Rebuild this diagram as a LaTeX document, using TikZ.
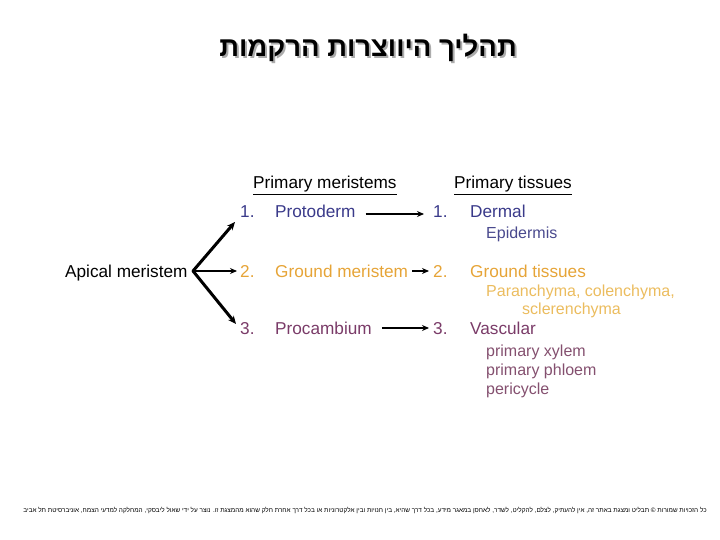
\documentclass[tikz,border=0pt]{standalone}
\usepackage{fontspec}
\setmainfont{Liberation Sans}
\newfontfamily\hebfont[Script=Hebrew]{Liberation Sans}
\TeXXeTstate=1
\usetikzlibrary{arrows.meta}
\definecolor{cblue}{HTML}{3A3A8A}
\definecolor{cbluel}{HTML}{4A4A8E}
\definecolor{cgold}{HTML}{E6A437}
\definecolor{cgoldl}{HTML}{EBBC5E}
\definecolor{cplum}{HTML}{7A3B68}
\definecolor{cpluml}{HTML}{84506F}
\tikzset{
  txt/.style={anchor=base west, inner sep=0pt, font=\fontsize{17.2}{19}\selectfont},
  sub/.style={anchor=base west, inner sep=0pt, font=\fontsize{16}{18}\selectfont},
  arr/.style={-{Stealth[length=7pt,width=6pt]}, line width=2pt},
  thick arr/.style={-{Stealth[length=8pt,width=7pt]}, line width=3pt, line cap=round},
}
\begin{document}
\begin{tikzpicture}[x=1pt,y=-1pt]
\useasboundingbox (0,0) rectangle (720,540);
% title with shadow
\node[inner sep=0pt, text=gray!65, font=\hebfont\bfseries\fontsize{27.5}{30}\selectfont] (shadow) at (370,50) {\beginR תהליך היווצרות הרקמות\endR};
\node[inner sep=0pt, font=\hebfont\bfseries\fontsize{27.5}{30}\selectfont] (title) at (368,48) {\beginR תהליך היווצרות הרקמות\endR};
% headers
\node[txt] (h1) at (253,189) {\underline{Primary meristems}};
\node[txt] (h2) at (454,189) {\underline{Primary tissues}};
% apical
\node[txt] (apical) at (65,277) {Apical meristem};
\coordinate (fork) at (193,271);
% meristems
\node[txt, text=cblue] (n1) at (240,218) {1.};
\node[txt, text=cblue] (m1) at (275,218) {Protoderm};
\node[txt, text=cgold] (n2) at (240,277) {2.};
\node[txt, text=cgold] (m2) at (275,277) {Ground meristem};
\node[txt, text=cplum] (n3) at (240,334) {3.};
\node[txt, text=cplum] (m3) at (275,334) {Procambium};
% tissues
\node[txt, text=cblue] (r1) at (433,218) {1.};
\node[txt, text=cblue] (t1) at (470,218) {Dermal};
\node[sub, text=cbluel] (s1) at (486,238) {Epidermis};
\node[txt, text=cgold] (r2) at (433,277) {2.};
\node[txt, text=cgold] (t2) at (470,277) {Ground tissues};
\node[sub, text=cgoldl] (s2a) at (486,296) {Paranchyma, colenchyma,};
\node[sub, text=cgoldl] (s2b) at (522,314) {sclerenchyma};
\node[txt, text=cplum] (r3) at (433,334) {3.};
\node[txt, text=cplum] (t3) at (470,334) {Vascular};
\node[sub, text=cpluml] (s3a) at (486,356) {primary xylem};
\node[sub, text=cpluml] (s3b) at (486,375) {primary phloem};
\node[sub, text=cpluml] (s3c) at (486,394) {pericycle};
% arrows from apical meristem
\draw[thick arr] (fork) -- ([xshift=-5pt,yshift=-4pt]n1.base west);
\draw[arr] (fork) -- ([xshift=-3pt,yshift=6pt]n2.base west);
\draw[thick arr] (fork) -- ([xshift=-4pt,yshift=10pt]n3.base west);
% meristem -> tissue arrows
\draw[arr] ([xshift=10pt,yshift=4pt]m1.base east) -- ([xshift=-9pt,yshift=4pt]r1.base west);
\draw[arr] ([xshift=4pt,yshift=6pt]m2.base east) -- ([xshift=-4pt,yshift=6pt]r2.base west);
\draw[arr] ([xshift=10pt,yshift=6pt]m3.base east) -- ([xshift=-4pt,yshift=6pt]r3.base west);
% footer
\node[inner sep=0pt, font=\hebfont\fontsize{6.4}{7}\selectfont] (foot) at (365,510) {\beginR כל הזכויות שמורות © תבליט ומצגת באתר זה, אין להעתיק, לצלם, להקליט, לשדר, לאחסן במאגר מידע, בכל דרך שהיא, בין חנויות ובין אלקטרוניות או בכל דרך אחרת חלק שהוא מהמצגת זו. נוצר על ידי שאול ליבסקי, המחלקה למדעי הצמח, אוניברסיטת תל אביב\endR};
\end{tikzpicture}
\end{document}
